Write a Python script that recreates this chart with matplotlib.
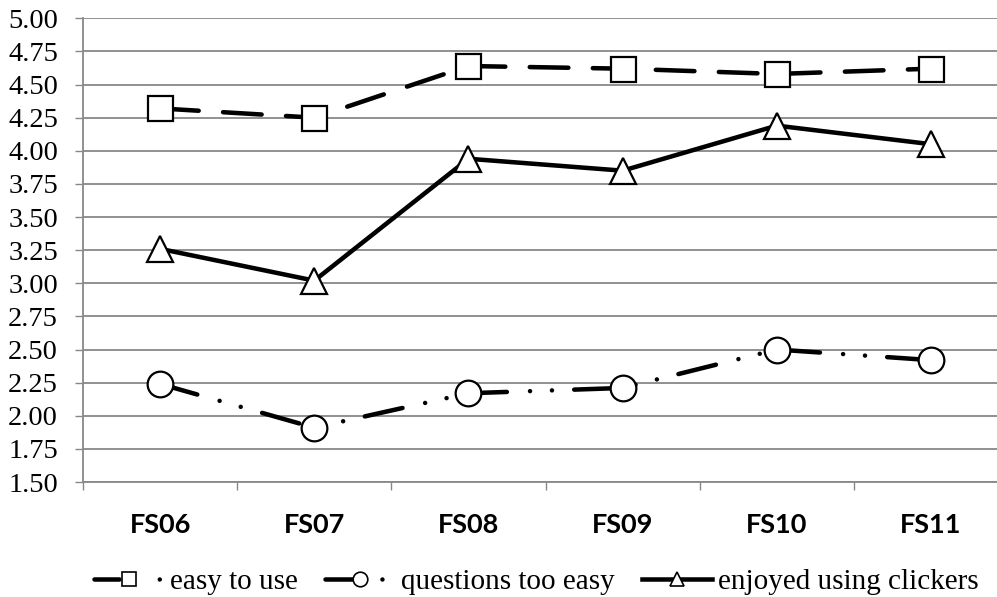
import matplotlib
matplotlib.use('Agg')
import matplotlib.pyplot as plt
from matplotlib.lines import Line2D
from matplotlib.ticker import FixedLocator

plt.rcParams['lines.scale_dashes'] = False
plt.rcParams['font.family'] = 'serif'
plt.rcParams['font.serif'] = ['Liberation Serif', 'Times New Roman', 'DejaVu Serif']

# data
terms = ['FS06', 'FS07', 'FS08', 'FS09', 'FS10', 'FS11']
easy_to_use = [4.32, 4.25, 4.64, 4.62, 4.58, 4.62]
too_easy = [2.24, 1.91, 2.17, 2.21, 2.50, 2.42]
enjoyed = [3.26, 3.02, 3.94, 3.85, 4.19, 4.05]
y_ticks = [1.50, 1.75, 2.00, 2.25, 2.50, 2.75, 3.00, 3.25, 3.50,
           3.75, 4.00, 4.25, 4.50, 4.75, 5.00]

grid_c = '#888888'
lw = 3.25

fig = plt.figure(figsize=(9.97, 5.97), dpi=100)
# plot area runs a bit past the right edge, like the original
ax = fig.add_axes([0.0833, 0.1926, 0.9278, 0.7767])

x = range(len(terms))
dash_easy = (0, (27.8, 17.6))
dash_q = (0, (27.8, 16.7, 0.01, 15.8, 0.01, 16.0))

mk = dict(markerfacecolor='white', markeredgecolor='black', markeredgewidth=1.6)
ax.plot(x, easy_to_use, color='black', lw=lw, linestyle=dash_easy,
        dash_capstyle='round', marker='s', markersize=18, zorder=3, **mk)
ax.plot(x, too_easy, color='black', lw=lw, linestyle=dash_q,
        dash_capstyle='round', marker='o', markersize=18.5, zorder=3, **mk)
ax.plot(x, enjoyed, color='black', lw=lw, linestyle='-',
        marker='^', markersize=18.5, zorder=3, **mk)

ax.set_yticks(y_ticks)
ax.set_yticklabels([f'{t:.2f}' for t in y_ticks], fontsize=20.5)
ax.set_xticks(list(x))
ax.set_xticklabels(terms, fontfamily='Lato', fontweight='bold', fontsize=19.5)
ax.set_xlim(-0.5, len(terms) - 0.5)
ax.set_ylim(1.5, 5.0)

ax.xaxis.set_minor_locator(FixedLocator([i - 0.5 for i in range(len(terms) + 1)]))
ax.tick_params(axis='x', which='major', length=0, pad=22)
ax.tick_params(axis='x', which='minor', length=6, width=1, color=grid_c)
ax.tick_params(axis='y', length=6, width=1, color=grid_c, pad=12)

ax.grid(axis='y', color=grid_c, lw=1.3, zorder=0)
ax.set_axisbelow(True)
for s in ['top', 'right']:
    ax.spines[s].set_visible(False)
for s in ['left', 'bottom']:
    ax.spines[s].set_color(grid_c)
    ax.spines[s].set_linewidth(1.3)

lmk = dict(markersize=10.5, markerfacecolor='white', markeredgecolor='black',
           markeredgewidth=1.2)
handles = [
    Line2D([], [], color='black', lw=lw, linestyle=(0, (18, 29, 0.01, 20)),
           dash_capstyle='round', marker='s', **lmk),
    Line2D([], [], color='black', lw=lw, linestyle=(0, (20, 21, 0.01, 30)),
           dash_capstyle='round', marker='o', **lmk),
    Line2D([], [], color='black', lw=lw, linestyle='-', marker='^', **lmk),
]
labels = ['easy to use', 'questions too easy', 'enjoyed using clickers']
fig.legend(handles, labels, loc='center', bbox_to_anchor=(0.538, 0.025),
           ncol=3, frameon=False, prop={'size': 21},
           handlelength=2.4, handletextpad=0.2, columnspacing=0.93,
           borderaxespad=0)

fig.savefig('out.png', dpi=100)
